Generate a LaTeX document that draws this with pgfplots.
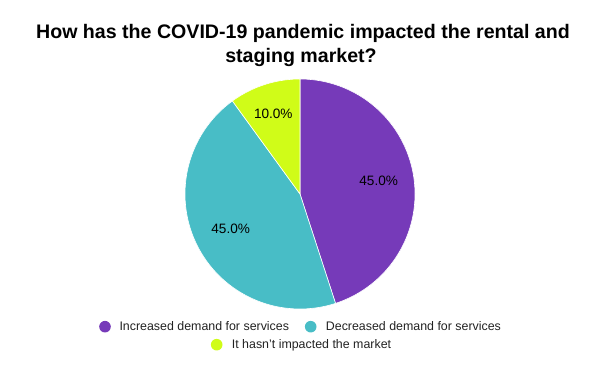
\documentclass[border=0pt]{standalone}
\usepackage{fontspec}
\setmainfont{Liberation Sans}
\usepackage{pgfplots}
\pgfplotsset{compat=1.18}
\definecolor{cA}{HTML}{763AB9}
\definecolor{cB}{HTML}{48BDC6}
\definecolor{cC}{HTML}{D0FC18}
\definecolor{legtxt}{HTML}{222222}
% shares (percent)
\def\vA{45}
\def\vB{45}
\def\vC{10}
\pgfmathsetmacro{\aS}{90}
\pgfmathsetmacro{\aE}{90-3.6*\vA}
\pgfmathsetmacro{\bE}{\aE-3.6*\vB}
\pgfmathsetmacro{\cE}{\bE-3.6*\vC}
\begin{document}
\begin{tikzpicture}
\begin{axis}[
  x=1pt, y=1pt, xmin=0, xmax=600, ymin=0, ymax=371,
  hide axis, clip=false, scale only axis,
  anchor=origin, at={(0,0)},
]
\path (axis cs:0,0) rectangle (axis cs:600,371);
\addplot[fill=cA, draw=white, line width=0.6pt, domain=\aE:\aS, samples=120, variable=\t]
  ({300+115*cos(\t)}, {177+115*sin(\t)}) -- (axis cs:300,177) -- cycle;
\addplot[fill=cB, draw=white, line width=0.6pt, domain=\bE:\aE, samples=120, variable=\t]
  ({300+115*cos(\t)}, {177+115*sin(\t)}) -- (axis cs:300,177) -- cycle;
\addplot[fill=cC, draw=white, line width=0.6pt, domain=\cE:\bE, samples=40, variable=\t]
  ({300+115*cos(\t)}, {177+115*sin(\t)}) -- (axis cs:300,177) -- cycle;
% slice labels
\node[anchor=base, font=\fontsize{13.6}{15}\selectfont, inner sep=0] at (axis cs:378.7,185) {45.0\%};
\node[anchor=base, font=\fontsize{13.6}{15}\selectfont, inner sep=0] at (axis cs:230.7,137) {45.0\%};
\node[anchor=base, font=\fontsize{13.6}{15}\selectfont, inner sep=0] at (axis cs:273.3,252) {10.0\%};
% title
\node[anchor=base, font=\fontsize{19.6}{22}\selectfont\bfseries, inner sep=0] at (axis cs:303,332.5) {How has the COVID-19 pandemic impacted the rental and};
\node[anchor=base, font=\fontsize{19.6}{22}\selectfont\bfseries, inner sep=0] at (axis cs:301,308.3) {staging market?};
% legend
\fill[cA] (axis cs:105,44.3) circle[radius=5.8pt];
\node[anchor=base west, font=\fontsize{12.4}{14}\selectfont, text=legtxt, inner sep=0] at (axis cs:119.3,40.3) {Increased demand for services};
\fill[cB] (axis cs:310.7,44.3) circle[radius=5.8pt];
\node[anchor=base west, font=\fontsize{12.4}{14}\selectfont, text=legtxt, inner sep=0] at (axis cs:325.7,40.3) {Decreased demand for services};
\fill[cC] (axis cs:216.7,26.3) circle[radius=5.8pt];
\node[anchor=base west, font=\fontsize{12.4}{14}\selectfont, text=legtxt, inner sep=0] at (axis cs:231.7,22.3) {It hasn’t impacted the market};
\end{axis}
\end{tikzpicture}
\end{document}
